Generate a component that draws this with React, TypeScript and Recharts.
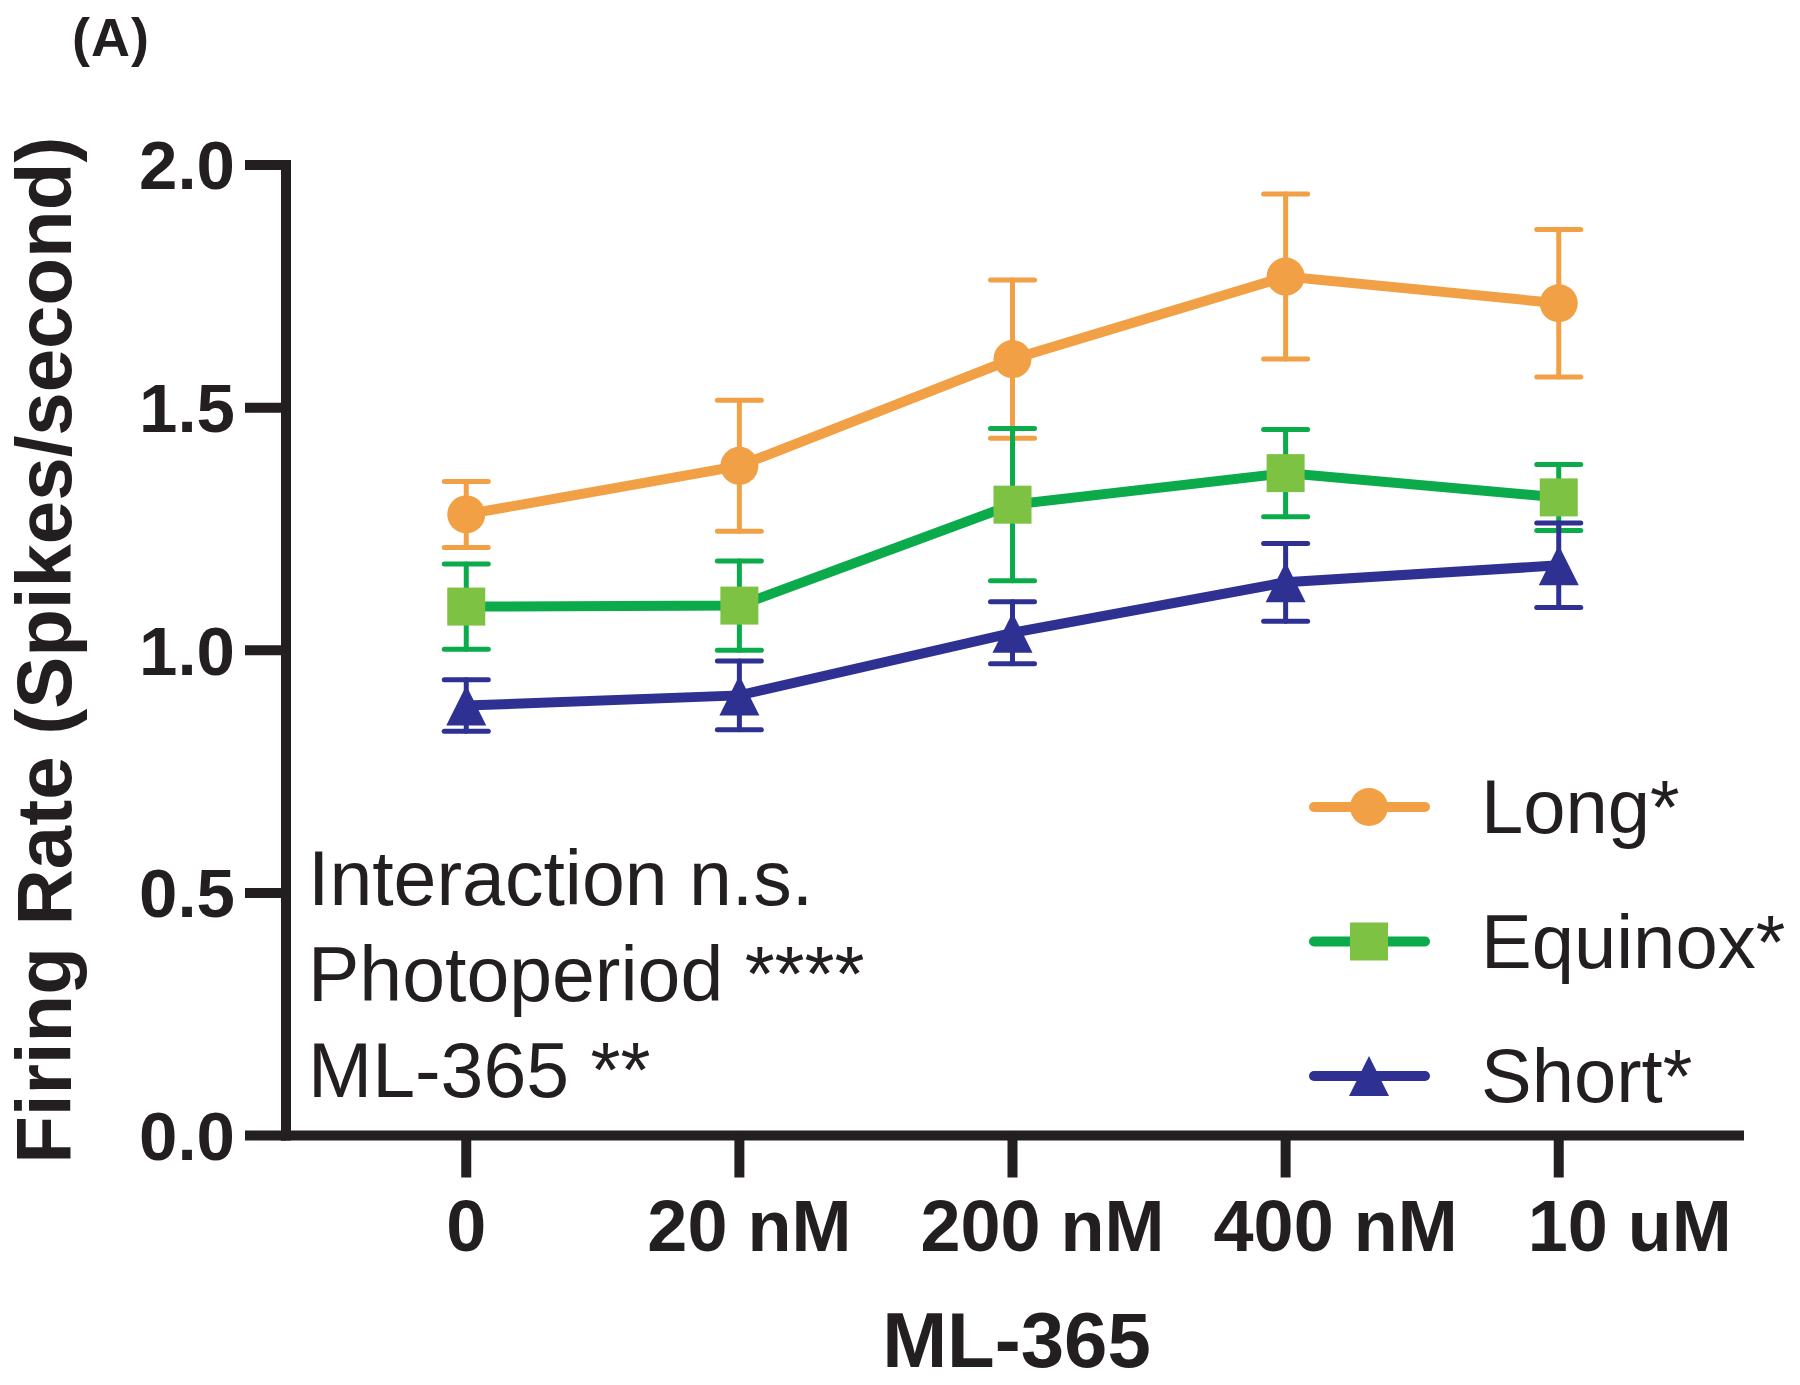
import React from 'react';
import { LineChart, Line, XAxis, YAxis, ErrorBar, Legend } from 'recharts';

// values (mean ± SEM, spikes/second)
const doses = ['0', '20 nM', '200 nM', '400 nM', '10 uM'];
const longMean = [1.28, 1.38, 1.6, 1.77, 1.715];
const longSem = [0.068, 0.135, 0.163, 0.17, 0.152];
const equinoxMean = [1.09, 1.092, 1.3, 1.365, 1.315];
const equinoxSem = [0.088, 0.092, 0.157, 0.09, 0.068];
const shortMean = [0.886, 0.907, 1.036, 1.14, 1.175];
const shortSem = [0.053, 0.071, 0.064, 0.08, 0.087];
const yTicks = [0, 0.5, 1, 1.5, 2];
const stats = ['Interaction n.s.', 'Photoperiod ****', 'ML-365 **'];

const FONT = "'Liberation Sans', Arial, Helvetica, sans-serif";
const INK = '#231F20';
// the original tick labels drift a little to the right
const X_LABEL_NUDGE = [0, 10, 30, 50, 71];

const series = [
  { key: 'long', name: 'Long*', line: '#F2A046', fill: '#F2A046', shape: 'circle', size: 38 },
  { key: 'equinox', name: 'Equinox*', line: '#0BAA4B', fill: '#7DC242', shape: 'square', size: 38 },
  { key: 'short', name: 'Short*', line: '#2E3192', fill: '#2E3192', shape: 'triangle', size: 40 },
];

const data = doses.map((d, i) => ({
  x: i,
  long: longMean[i],
  longErr: longSem[i],
  equinox: equinoxMean[i],
  equinoxErr: equinoxSem[i],
  short: shortMean[i],
  shortErr: shortSem[i],
}));

function Marker({ cx, cy, shape, fill, size = 38 }: any) {
  if (cx == null || cy == null) return null;
  const h = size / 2;
  if (shape === 'circle') return <circle cx={cx} cy={cy} r={h} fill={fill} />;
  if (shape === 'square') return <rect x={cx - h} y={cy - h} width={size} height={size} fill={fill} />;
  return <path d={`M${cx},${cy - h}L${cx + h},${cy + h}L${cx - h},${cy + h}Z`} fill={fill} />;
}

function XTick(props: any) {
  const { x, y, payload } = props;
  const i = payload.value;
  return (
    <text
      x={x + (X_LABEL_NUDGE[i] || 0)}
      y={y}
      dy="0.71em"
      textAnchor="middle"
      fontFamily={FONT}
      fontWeight="bold"
      fontSize={72}
      fill={INK}
    >
      {doses[i]}
    </text>
  );
}

function renderLegend() {
  return (
    <svg width={500} height={400} style={{ display: 'block' }}>
      {series.map((s, i) => {
        const cy = 57 + i * 134.5;
        return (
          <g key={s.key}>
            <line x1={14} x2={125} y1={cy} y2={cy} stroke={s.line} strokeWidth={10} strokeLinecap="round" />
            <Marker cx={69} cy={cy} shape={s.shape} fill={s.fill} size={s.size} />
            <text x={181} y={cy + 26} fontFamily={FONT} fontSize={76} fill={INK}>
              {s.name}
            </text>
          </g>
        );
      })}
    </svg>
  );
}

function YTitle(props: any) {
  const vb = props.viewBox || { x: 0, y: 165, width: 286, height: 970 };
  const x = vb.x + 71;
  const y = vb.y + vb.height / 2;
  return (
    <text
      transform={`translate(${x},${y}) rotate(-90)`}
      textAnchor="middle"
      fontFamily={FONT}
      fontWeight="bold"
      fontSize={78}
      fill={INK}
    >
      Firing Rate (Spikes/second)
    </text>
  );
}

function XTitle(props: any) {
  const vb = props.viewBox || { x: 286, y: 1135, width: 1453, height: 250 };
  return (
    <text
      x={vb.x + vb.width / 2 + 4}
      y={vb.y + 231}
      textAnchor="middle"
      fontFamily={FONT}
      fontWeight="bold"
      fontSize={78}
      fill={INK}
    >
      ML-365
    </text>
  );
}

export default function App() {
  return (
    <div style={{ position: 'absolute', left: 0, top: 0, width: 1800, height: 1385, background: '#fff' }}>
      <LineChart width={1800} height={1385} data={data} margin={{ top: 165, right: 61, left: 0, bottom: 0 }}>
        <XAxis
          dataKey="x"
          type="number"
          domain={[-0.66, 4.66]}
          ticks={[0, 1, 2, 3, 4]}
          allowDataOverflow
          height={249.5}
          tickSize={42}
          tickMargin={22}
          tick={<XTick />}
          axisLine={{ stroke: INK, strokeWidth: 10, strokeLinecap: 'square' }}
          tickLine={{ stroke: INK, strokeWidth: 10 }}
          label={<XTitle />}
        />
        <YAxis
          type="number"
          domain={[0, 2]}
          ticks={yTicks}
          width={286}
          tickSize={41}
          tickMargin={10}
          tickFormatter={(v: number) => v.toFixed(1)}
          tick={{ fill: INK, fontSize: 69, fontWeight: 'bold', fontFamily: FONT }}
          axisLine={{ stroke: INK, strokeWidth: 10, strokeLinecap: 'square' }}
          tickLine={{ stroke: INK, strokeWidth: 10 }}
          label={<YTitle />}
        />
        <Legend
          layout="vertical"
          align="center"
          verticalAlign="middle"
          content={renderLegend}
          wrapperStyle={{ left: 1300, top: 750, width: 500, height: 400 }}
        />
        {series.map((s) => (
          <Line
            key={s.key}
            dataKey={s.key}
            name={s.name}
            type="linear"
            stroke={s.line}
            strokeWidth={10}
            isAnimationActive={false}
            activeDot={false}
            dot={(p: any) => (
              <Marker key={`${s.key}-${p.index}`} cx={p.cx} cy={p.cy} shape={s.shape} fill={s.fill} size={s.size} />
            )}
          >
            <ErrorBar
              dataKey={`${s.key}Err`}
              width={22}
              stroke={s.line}
              strokeWidth={5}
              strokeLinecap="round"
              isAnimationActive={false}
            />
          </Line>
        ))}
      </LineChart>
      <svg
        width={1800}
        height={1385}
        style={{ position: 'absolute', left: 0, top: 0, pointerEvents: 'none' }}
      >
        <text x={72} y={56} fontFamily={FONT} fontWeight="bold" fontSize={54} letterSpacing={1} fill={INK}>
          (A)
        </text>
        {stats.map((t, i) => (
          <text key={t} x={308} y={905 + i * 96} fontFamily={FONT} fontSize={77} fill={INK}>
            {t}
          </text>
        ))}
      </svg>
    </div>
  );
}
